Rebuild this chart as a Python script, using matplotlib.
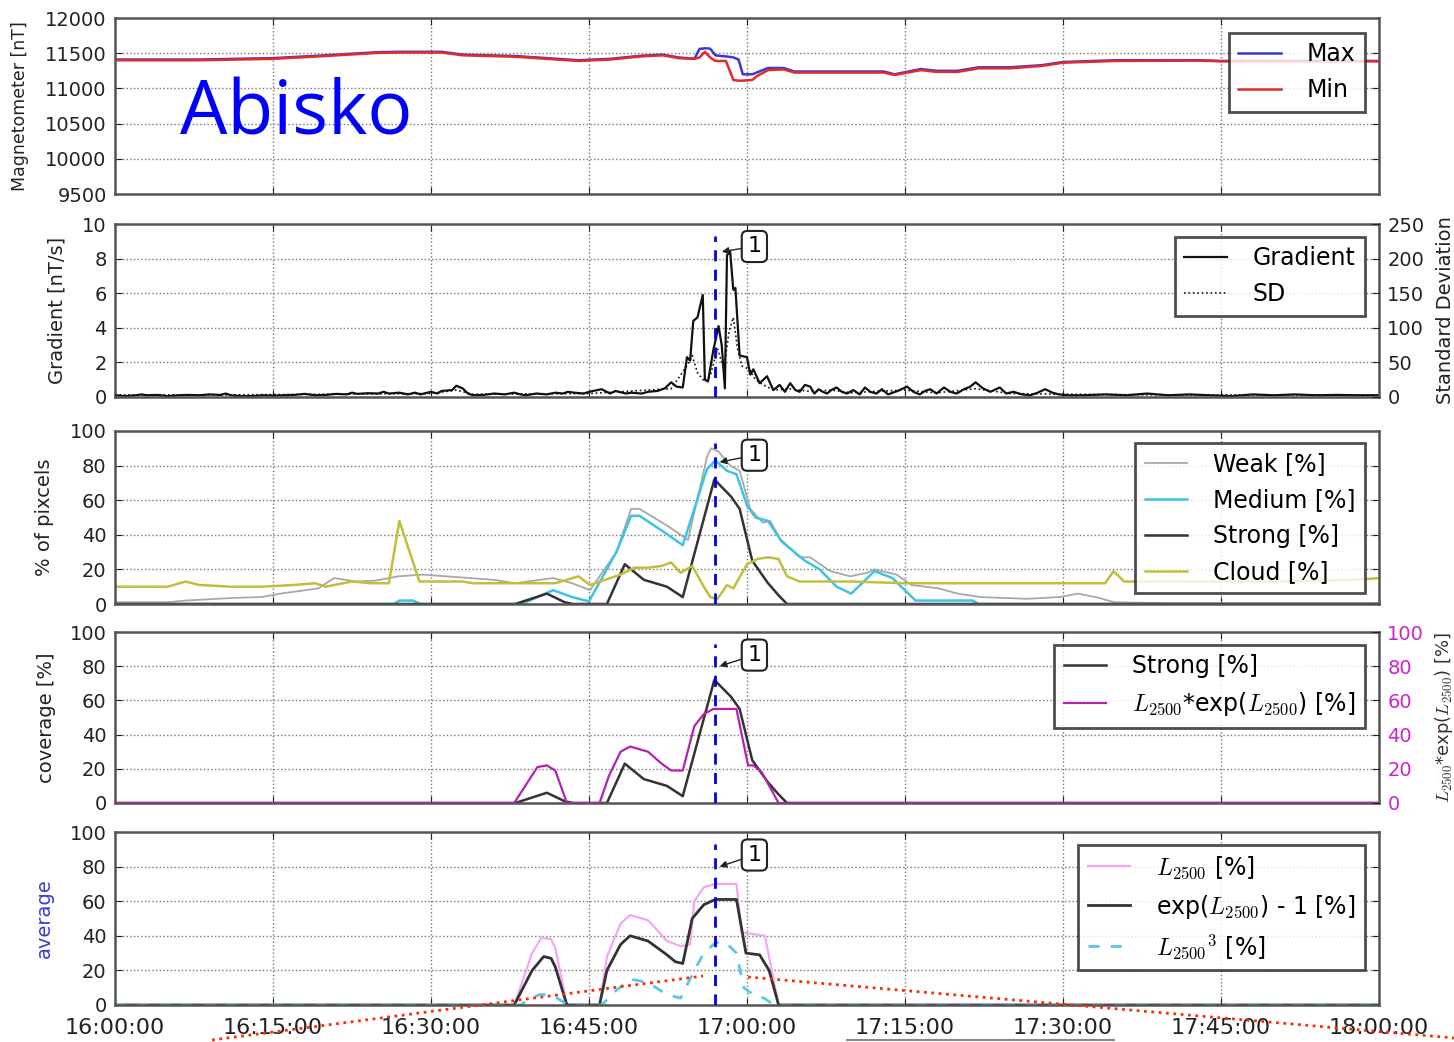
import matplotlib
matplotlib.use('Agg')
import matplotlib.pyplot as plt
from matplotlib.lines import Line2D

plt.rcParams['font.family'] = ['DejaVu Sans']
plt.rcParams['mathtext.fontset'] = 'cm'

# minutes after 16:00
xtick_pos = [0, 15, 30, 45, 60, 75, 90, 105, 120]
xtick_labels = ['16:00:00', '16:15:00', '16:30:00', '16:45:00', '17:00:00',
                '17:15:00', '17:30:00', '17:45:00', '18:00:00']
event_t = 57.0

# magnetometer
mag_t = [0, 8, 15, 20, 25, 27, 31, 33, 38, 44, 47, 50, 52, 53.5, 55, 55.5, 56, 56.5, 57, 57.5,
         58, 58.7, 59.2, 59.6, 60.5, 61, 62, 63.5, 64.5, 69, 73, 74, 76.5, 78, 80, 82, 85, 88, 90, 95,
         103, 105, 120]
mag_max = [11410, 11410, 11430, 11470, 11515, 11520, 11520, 11480, 11460, 11400,
           11420, 11465, 11480, 11440, 11420, 11560, 11570, 11565, 11470, 11460,
           11455, 11440, 11410, 11200, 11200, 11230, 11290, 11290, 11240, 11240,
           11240, 11200, 11275, 11250, 11250, 11300, 11300, 11330, 11375, 11400,
           11400, 11390, 11390]
mag_min = [11400, 11400, 11420, 11460, 11505, 11510, 11510, 11470, 11450, 11390,
           11410, 11455, 11470, 11430, 11420, 11440, 11520, 11440, 11390, 11390,
           11390, 11120, 11110, 11110, 11120, 11180, 11260, 11270, 11225, 11225,
           11225, 11190, 11260, 11235, 11235, 11285, 11285, 11320, 11365, 11390,
           11395, 11385, 11385]

# gradient [nT/s]
grad_t = [0, 1, 2, 2.5, 3, 4, 5, 6, 7, 8, 9, 10, 10.5, 11, 12, 13, 14, 15, 16, 17,
          18, 19, 20, 21, 22, 22.5, 23, 24, 25, 25.5, 26, 27, 27.8, 28.5, 29, 30, 30.6, 31, 32, 32.4,
          33, 33.5, 34, 35, 36, 37, 37.9, 38.5, 39, 40, 41, 41.8, 42.5, 43, 43.6, 44.5, 45, 46.2, 47, 47.5,
          48.5, 49, 50, 50.6, 51.5, 52.2, 52.8, 53.3, 53.9, 54.3, 54.6, 54.9, 55.3, 55.8, 56.0, 56.3, 56.8, 57.3, 57.6, 57.9,
          58.1, 58.4, 58.7, 58.9, 59.3, 60.0, 60.3, 60.6, 61.2, 61.9, 62.5, 63.1, 63.6, 64.1, 64.6, 65.0, 65.5, 66.0, 66.4, 66.8,
          67.2, 67.6, 68.0, 68.5, 69.0, 69.5, 70.1, 70.7, 71.2, 71.7, 72.3, 72.8, 73.4, 74.3, 75.2, 75.8, 76.4, 76.9, 77.4, 78.0,
          78.7, 79.3, 79.9, 80.6, 81.2, 81.7, 82.4, 83.1, 84.0, 84.6, 85.3, 86.1, 86.9, 87.6, 88.3, 89.0, 89.6, 90.5, 92, 94,
          96, 98, 100, 102, 104, 106, 108, 110, 112, 114, 116, 118, 120]
grad_v = [0.1, 0.05, 0.1, 0.15, 0.1, 0.12, 0.05, 0.1, 0.12, 0.1, 0.15, 0.12, 0.2, 0.1, 0.05, 0.05, 0.1, 0.08, 0.1, 0.12,
          0.18, 0.1, 0.12, 0.18, 0.15, 0.25, 0.18, 0.22, 0.2, 0.3, 0.2, 0.25, 0.15, 0.25, 0.15, 0.3, 0.2, 0.35, 0.4, 0.65,
          0.5, 0.2, 0.1, 0.12, 0.2, 0.15, 0.25, 0.15, 0.1, 0.2, 0.15, 0.25, 0.2, 0.3, 0.25, 0.2, 0.3, 0.45, 0.2, 0.35,
          0.2, 0.25, 0.2, 0.3, 0.35, 0.5, 0.85, 0.6, 0.55, 2.3, 2.1, 4.4, 4.6, 5.9, 1.0, 0.9, 2.7, 4.1, 3.0, 0.5,
          8.2, 8.4, 6.2, 6.3, 2.4, 2.3, 1.3, 1.6, 0.8, 1.2, 0.4, 0.7, 0.3, 0.8, 0.4, 0.3, 0.7, 0.6, 0.2, 0.45,
          0.3, 0.2, 0.4, 0.55, 0.3, 0.2, 0.4, 0.15, 0.55, 0.3, 0.2, 0.45, 0.15, 0.35, 0.6, 0.3, 0.15, 0.35, 0.45, 0.2,
          0.55, 0.3, 0.2, 0.45, 0.6, 0.85, 0.5, 0.3, 0.55, 0.2, 0.3, 0.15, 0.1, 0.25, 0.45, 0.25, 0.15, 0.1, 0.1, 0.15,
          0.1, 0.2, 0.1, 0.15, 0.1, 0.05, 0.15, 0.1, 0.15, 0.1, 0.12, 0.1, 0.1]

# standard deviation
sd_t = [0, 10, 20, 30, 32.4, 34, 45, 52.8, 54.3, 54.8, 55.3, 56.0, 56.5, 57.2, 57.8, 58.3, 58.7, 59.1, 59.5, 60.2,
        60.8, 61.5, 62.5, 64, 66, 68, 70, 72, 75, 78, 81.7, 85, 90, 100, 120]
sd_v = [3, 3, 4, 5, 10, 4, 5, 12, 45, 60, 35, 22, 30, 70, 40, 95, 115, 70, 45, 40,
        25, 18, 10, 12, 8, 10, 6, 8, 10, 6, 12, 5, 4, 3, 3]

# % of pixels
cloud_t = [0, 5, 6.7, 8, 11, 13.8, 15.5, 17, 19, 20, 22.5, 24.3, 26, 27, 28.9, 33, 34, 38, 41.8, 44,
           45.1, 48, 49.3, 50.6, 51.9, 52.8, 53.7, 54.8, 55.9, 56.5, 57.2, 58.1, 58.7, 60, 61, 62, 63, 63.8, 65, 70,
           75, 80, 85, 90, 94, 94.8, 95.8, 100, 110, 118, 120]
cloud_v = [10, 10, 13, 11, 10, 10, 10.5, 11, 12, 10, 13, 12, 12, 48, 13, 13, 12, 12, 12, 16,
           11, 17, 21, 21, 22, 24, 18, 22, 10, 4, 3, 11, 9, 23, 26, 27, 26, 16, 13, 13,
           12, 12, 12, 12, 12, 19, 13, 13, 13, 14, 15]
weak_t = [0, 5, 6.7, 11.2, 13.9, 15.7, 19.3, 20.8, 22.9, 24.7, 26.9, 29.2, 33.7, 35.9, 38, 41.6, 43.4, 45.1, 47.6, 49,
          49.8, 52.5, 54.4, 56.2, 56.6, 57.3, 58.4, 59.3, 60.3, 61.5, 62.2, 63.1, 65, 66, 67.9, 69.8, 71.4, 72.1, 74.2, 75.6,
          78.2, 80, 82.2, 86.6, 89.7, 91.4, 93.1, 94.9, 100, 120]
weak_v = [1, 1, 2, 3.5, 4, 6, 9, 15, 13, 13.5, 16, 17, 15, 14, 12, 15, 12, 8, 30, 55,
          55, 45, 37, 85, 90, 88, 80, 77, 55, 47, 48, 38, 27, 27, 19, 16, 18, 20, 17, 11,
          9, 6, 4, 3, 4, 6, 4, 1, 0.5, 0.5]
medium_t = [0, 26.5, 27, 28.3, 29, 38, 39, 41.6, 43.4, 45, 47.6, 49, 49.8, 52.5, 53.9, 56.2, 57, 58.1, 59, 60,
            60.8, 62, 63.3, 65.5, 66.9, 68.5, 69.9, 72.1, 73.8, 76, 81.4, 82, 120]
medium_v = [0, 0, 2, 2, 0, 0, 1, 8, 4, 1.5, 30, 51, 51, 40, 34, 78, 83, 77, 75, 57,
            50, 48, 36, 25, 20, 10, 6, 19, 15, 2, 2, 0, 0]
strong_t = [0, 38, 41, 42.7, 43.5, 46.7, 48.4, 50.2, 52.4, 53.9, 56.9, 58.5, 59.3, 60.5, 62, 63, 63.8, 120]
strong_v = [0, 0, 6, 1, 0, 0, 23, 14, 10, 4, 72, 62, 55, 25, 12, 5, 0, 0]

# coverage
lexp_t = [0, 37.9, 40.1, 41, 41.8, 42.9, 46, 46.9, 48, 48.9, 50.6, 51.9, 52.8, 53.9, 55, 55.9, 56.8, 59, 60.1, 60.6,
          61.4, 63, 120]
lexp_v = [0, 0, 21, 22, 19, 0, 0, 16, 30, 33, 30, 23, 19, 19, 45, 52, 55, 55, 22, 22,
          18, 0, 0]

# average
l_t = [0, 37.9, 39.6, 40.5, 41.4, 41.8, 42.9, 46, 46.7, 48, 48.9, 50.6, 52.4, 53.7, 54.6, 55, 55.9, 57, 59, 59.5,
       61.7, 63, 120]
l_v = [0, 0, 30, 39, 38, 33, 0, 0, 28, 47, 52, 49, 37, 34, 35, 60, 68, 70, 70, 42,
       40, 0, 0]
expl_t = [0, 37.9, 39.6, 40.7, 41.4, 41.8, 42.9, 46, 46.7, 48, 48.9, 50.6, 52.4, 53.2, 53.9, 54.8, 55.9, 57, 59, 59.9,
          61.2, 62.1, 63, 120]
expl_v = [0, 0, 20, 28, 27, 22, 0, 0, 20, 35, 40, 37, 29, 25, 24, 50, 58, 61, 61, 30,
          29, 20, 0, 0]
l3_t = [0, 38.5, 39.2, 40.3, 41.4, 42.5, 42.9, 46.2, 47.5, 48.9, 50.6, 52.4, 53.7, 55, 55.9, 57, 58, 59, 59.7, 60.8,
        61.6, 62.6, 120]
l3_v = [0, 0, 3, 6, 6, 2, 0, 0, 8, 15, 13, 6, 4, 20, 30, 36, 36, 30, 10, 5,
        4, 0, 0]

W, H = 1454, 1042
fig = plt.figure(figsize=(W / 100, H / 100), dpi=100)
LEG = dict(loc='upper right', borderaxespad=0, fontsize=17, fancybox=False,
           handlelength=1.8, handletextpad=1.1, labelspacing=0.5, borderpad=0.4)

def make_ax(top, bottom):
    ax = fig.add_axes([115 / W, 1 - bottom / H, 1264 / W, (bottom - top) / H])
    ax.set_xlim(0, 120)
    ax.set_xticks(xtick_pos)
    ax.grid(True, ls=':', color='#777777', lw=1)
    ax.tick_params(direction='in', length=5, top=True, labelsize=14, colors='#222222', pad=6)
    for s in ax.spines.values():
        s.set_linewidth(1.8)
        s.set_color('#555555')
    return ax

def style_legend(leg):
    fr = leg.get_frame()
    fr.set_linewidth(2)
    fr.set_edgecolor('#222222')
    leg.set_zorder(10)

def mark_event(ax, xy, xytext):
    ax.axvline(event_t, ymax=0.93, color='#0000dd', ls='--', lw=2, dashes=(4, 3), zorder=5)
    ax.annotate('1', xy=xy, xytext=xytext, fontsize=16, ha='center', va='center',
                bbox=dict(boxstyle='round,pad=0.25', fc='white', ec='#222222', lw=1.5),
                arrowprops=dict(arrowstyle='-|>', color='#222222', lw=1, mutation_scale=10,
                                shrinkA=0, shrinkB=0), zorder=6)

# panel 1
ax1 = make_ax(18, 194)
ax1.plot(mag_t, mag_max, color='#3a3ad0', lw=1.8, label='Max')
ax1.plot(mag_t, mag_min, color='#e32a2a', lw=1.8, label='Min')
ax1.set_ylim(9500, 12000)
ax1.set_yticks(range(9500, 12001, 500))
ax1.tick_params(right=True, labelbottom=False)
ax1.set_ylabel('Magnetometer [nT]', fontsize=12.5, color='#222222')
ax1.yaxis.set_label_coords(-0.068, 0.5)
style_legend(ax1.legend(bbox_to_anchor=(1 - 14 / 1264, 1 - 15 / 176), **LEG))
fig.text(180 / W, 1 - 135 / H, 'Abisko', fontsize=54, color='#0000ff', family='Open Sans', va='baseline')

# panel 2
ax2 = make_ax(224, 397)
l_grad, = ax2.plot(grad_t, grad_v, color='#111111', lw=1.6, label='Gradient')
ax2.set_ylim(0, 10)
ax2.set_yticks(range(0, 11, 2))
ax2.tick_params(labelbottom=False)
ax2.set_ylabel('Gradient [nT/s]', fontsize=14, color='#222222')
ax2.yaxis.set_label_coords(-0.038, 0.5)
ax2b = ax2.twinx()
l_sd, = ax2b.plot(sd_t, sd_v, color='#111111', lw=1.2, ls=':', label='SD')
ax2b.set_ylim(0, 250)
ax2b.set_yticks(range(0, 251, 50))
ax2b.tick_params(direction='in', length=5, labelsize=14, colors='#222222', pad=6)
ax2b.set_ylabel('Standard Deviation', fontsize=14, color='#222222')
ax2b.yaxis.set_label_coords(1.045, 0.5)
for s in ax2b.spines.values():
    s.set_visible(False)
mark_event(ax2, (57.6, 8.4), (60.7, 8.7))
style_legend(ax2.legend([l_grad, l_sd], ['Gradient', 'SD'],
                        bbox_to_anchor=(1 - 14 / 1264, 1 - 13 / 173), **LEG))

# panel 3
ax3 = make_ax(431, 604)
ax3.plot(weak_t, weak_v, color='#a8a8a8', lw=1.3, label='Weak [%]')
ax3.plot(medium_t, medium_v, color='#3ec3e6', lw=1.8, label='Medium [%]')
ax3.plot(strong_t, strong_v, color='#333333', lw=1.8, label='Strong [%]')
ax3.plot(cloud_t, cloud_v, color='#c2be3c', lw=1.8, label='Cloud [%]')
ax3.set_ylim(0, 100)
ax3.set_yticks(range(0, 101, 20))
ax3.tick_params(right=True, labelbottom=False)
ax3.set_ylabel('% of pixcels', fontsize=14, color='#222222')
ax3.yaxis.set_label_coords(-0.048, 0.5)
mark_event(ax3, (57.4, 82), (60.7, 86))
style_legend(ax3.legend(bbox_to_anchor=(1 - 14 / 1264, 1 - 12 / 173), **LEG))

# panel 4
ax4 = make_ax(632, 803)
l_st, = ax4.plot(strong_t, strong_v, color='#333333', lw=1.8)
ax4.set_ylim(0, 100)
ax4.set_yticks(range(0, 101, 20))
ax4.tick_params(labelbottom=False)
ax4.set_ylabel('coverage [%]', fontsize=14, color='#222222')
ax4.yaxis.set_label_coords(-0.047, 0.5)
ax4b = ax4.twinx()
l_le, = ax4b.plot(lexp_t, lexp_v, color='#b422b4', lw=1.6)
ax4b.set_ylim(0, 100)
ax4b.set_yticks(range(0, 101, 20))
ax4b.tick_params(direction='in', length=5, labelsize=14, colors='#222222', labelcolor='#cc22cc', pad=6)
ax4b.set_ylabel(r'$L_{2500}$*exp($L_{2500}$) [%]', fontsize=13, color='#333333')
ax4b.yaxis.set_label_coords(1.043, 0.5)
for s in ax4b.spines.values():
    s.set_visible(False)
mark_event(ax4, (57.4, 80), (60.7, 86.5))
style_legend(ax4.legend([l_st, l_le], ['Strong [%]', r'$L_{2500}$*exp($L_{2500}$) [%]'],
                        bbox_to_anchor=(1 - 14 / 1264, 1 - 13 / 171), **LEG))

# panel 5
ax5 = make_ax(832, 1005)
ax5.plot(l_t, l_v, color='#f3a6f3', lw=1.6, label=r'$L_{2500}$ [%]')
ax5.plot(expl_t, expl_v, color='#333333', lw=2, label=r'exp($L_{2500}$) - 1 [%]')
ax5.plot(l3_t, l3_v, color='#5bc8e8', lw=2, ls='--', dashes=(4, 4), label=r'${L_{2500}}^3$ [%]')
ax5.set_ylim(0, 100)
ax5.set_yticks(range(0, 101, 20))
ax5.tick_params(right=True)
ax5.tick_params(axis='x', pad=9)
ax5.set_xticklabels(xtick_labels, fontsize=16)
ax5.set_ylabel('average', fontsize=14, color='#3a3ad8')
ax5.yaxis.set_label_coords(-0.048, 0.5)
mark_event(ax5, (57.4, 80), (60.7, 86.7))
style_legend(ax5.legend(bbox_to_anchor=(1 - 14 / 1264, 1 - 13 / 173), **LEG))

# zoom guide lines of the slide
fig.add_artist(Line2D([212 / W, 703 / W], [1 - 1040 / H, 1 - 976 / H], color='#ff2a00', lw=2, ls=':'))
fig.add_artist(Line2D([748 / W, 1454 / W], [1 - 977 / H, 1 - 1038 / H], color='#ff2a00', lw=2, ls=':'))
fig.add_artist(Line2D([847 / W, 1114 / W], [1 - 1040 / H, 1 - 1040 / H], color='#888888', lw=1.5))

fig.savefig('out.png', dpi=100)
